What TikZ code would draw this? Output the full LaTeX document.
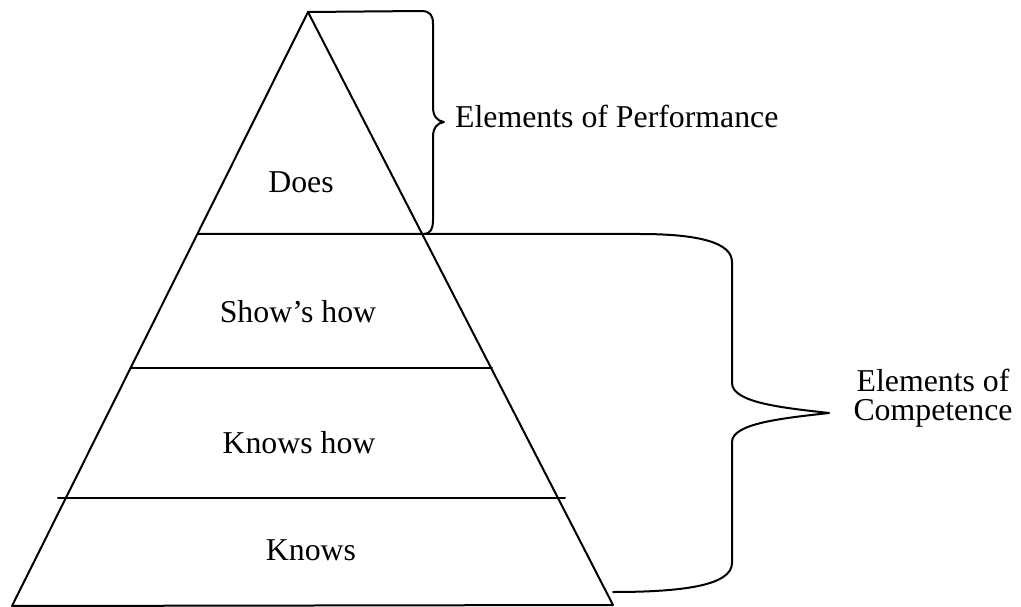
\documentclass[tikz,border=0pt]{standalone}
\usepackage{fontspec}
\setmainfont{Liberation Serif}
\begin{document}
\begin{tikzpicture}[x=1pt,y=-1pt,
  ln/.style={line width=2pt, line join=round, line cap=round},
  lbl/.style={inner sep=0pt, font=\fontsize{31.8}{29}\selectfont}]
\useasboundingbox (0,0) rectangle (1021,607);
% pyramid corners
\coordinate (apex) at (308,12);
\coordinate (bl) at (12,606);
\coordinate (br) at (613,605);
\draw[ln] (bl) -- (apex) -- (br) -- cycle;
% level lines
\coordinate (l1a) at (198,234);
\coordinate (l1b) at (640,234);
\coordinate (l2a) at (131,368);
\coordinate (l2b) at (492,368);
\coordinate (l3a) at (58,498);
\coordinate (l3b) at (565,498);
\draw[ln] (l2a) -- (l2b);
\draw[ln] (l3a) -- (l3b);
% top brace (Performance)
\coordinate (tb) at (424,234);
\coordinate (ttip) at (444,122);
\draw[ln] (apex) -- (421,11) .. controls (430,11) and (433,15) .. (433,24)
  -- (433,107) .. controls (433,116) and (437,121) .. (ttip)
  .. controls (437,123) and (433,128) .. (433,137)
  -- (433,220) .. controls (433,229) and (430,234) .. (tb);
% big brace (Competence), top arm is level line 1
\coordinate (btip) at (829,413);
\coordinate (bend) at (613,592);
\draw[ln] (l1a) -- (l1b) .. controls (700,234) and (732,243) .. (732,262)
  -- (732,383) .. controls (732,403) and (785,408) .. (btip)
  .. controls (785,418) and (732,423) .. (732,442)
  -- (732,563) .. controls (732,586) and (680,592) .. (bend);
% labels
\node[lbl, anchor=base] (does) at (301,193) {Does};
\node[lbl, anchor=base] (shows) at (298,322) {Show’s how};
\node[lbl, anchor=base] (knowshow) at (299,453) {Knows how};
\node[lbl, anchor=base] (knows) at (311,560) {Knows};
\node[lbl, anchor=base west] (perf) at (455,128) {Elements of Performance};
\node[lbl, anchor=base, align=center] (comp) at (933,420) {Elements of\\Competence};
\end{tikzpicture}
\end{document}
